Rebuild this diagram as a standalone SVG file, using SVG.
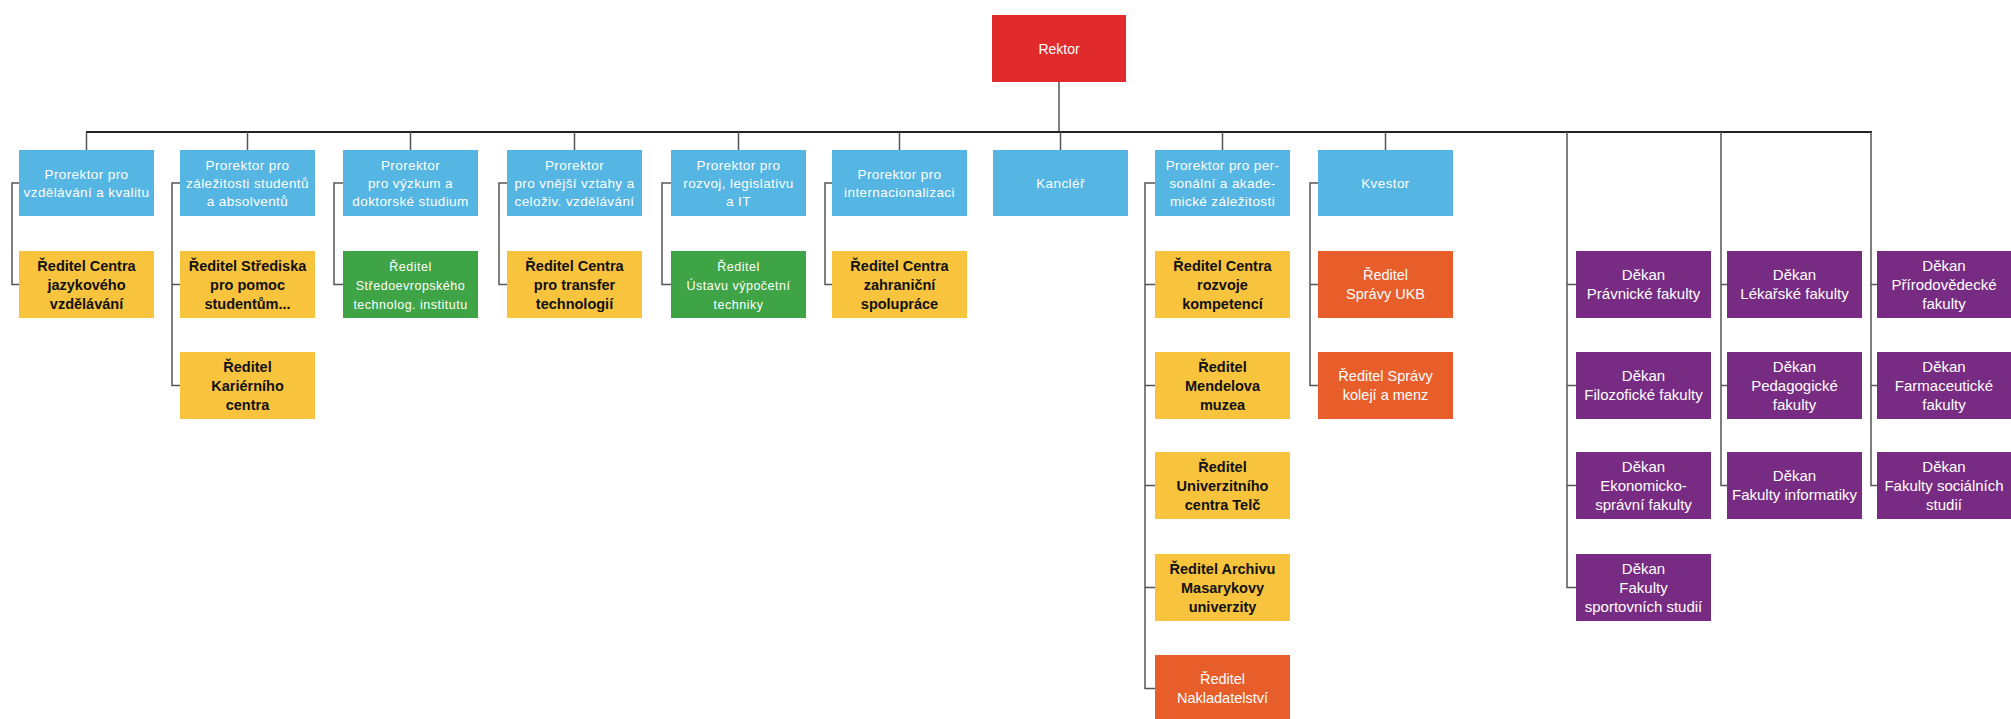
<svg xmlns="http://www.w3.org/2000/svg" width="2011" height="719" viewBox="0 0 2011 719">
<style>
rect{shape-rendering:crispEdges}
.red{fill:#e02a2c}
.blue{fill:#55b5e3}
.yel{fill:#f8c33d}
.grn{fill:#3fa445}
.org{fill:#e85e2b}
.pur{fill:#782b83}
text{font-family:"Liberation Sans",Arial,sans-serif;text-anchor:middle}
.tb{fill:#ffffff;font-size:13.5px;letter-spacing:0.4px}
.ty{fill:#111111;font-size:14.5px;font-weight:bold}
.tg{fill:#ffffff;font-size:12.5px;letter-spacing:0.5px}
.to{fill:#ffffff;font-size:14.5px}
.tp{fill:#ffffff;font-size:15px}
.tr{fill:#ffffff;font-size:14px}
.bus{stroke:#222;stroke-width:2;fill:none}
.ln{stroke:#555;stroke-width:1.5;fill:none}
</style>
<rect width="2011" height="719" fill="#ffffff"/>
<g id="connectors">
<line class="ln" x1="1059" y1="82" x2="1059" y2="132"/>
<line class="bus" x1="86" y1="132" x2="1872" y2="132"/>
<path class="ln" d="M86.5 132V150M247.5 132V150M410.5 132V150M574.5 132V150M738.5 132V150M899.5 132V150M1060.5 132V150M1222.5 132V150M1385.5 132V150"/>
<path class="ln" d="M19 183H12V284.5H19"/>
<path class="ln" d="M180 183H172V385.5H180M172 284.5H180"/>
<path class="ln" d="M343 183H334V284.5H343"/>
<path class="ln" d="M507 183H499V284.5H507"/>
<path class="ln" d="M671 183H662V284.5H671"/>
<path class="ln" d="M832 183H825V284.5H832"/>
<path class="ln" d="M1155 183H1145V688.5H1155M1145 284.5H1155M1145 385.5H1155M1145 485.5H1155M1145 587.5H1155"/>
<path class="ln" d="M1318 183H1310V385.5H1318M1310 284.5H1318"/>
<path class="ln" d="M1567 132V587.5H1576M1567 284.5H1576M1567 385.5H1576M1567 485.5H1576"/>
<path class="ln" d="M1721 132V485.5H1727M1721 284.5H1727M1721 385.5H1727"/>
<path class="ln" d="M1871 132V485.5H1877M1871 284.5H1877M1871 385.5H1877"/>
</g>
<g id="rektor"><rect class="red" x="992" y="15" width="134" height="67"/><text class="tr" x="1059" y="54">Rektor</text></g>
<g id="p1"><rect class="blue" x="19" y="150" width="135" height="66"/><text class="tb" x="86.5" y="179">Prorektor pro</text><text class="tb" x="86.5" y="197">vzdělávání a kvalitu</text></g>
<g id="p2"><rect class="blue" x="180" y="150" width="135" height="66"/><text class="tb" x="247.5" y="170">Prorektor pro</text><text class="tb" x="247.5" y="188">záležitosti studentů</text><text class="tb" x="247.5" y="206">a absolventů</text></g>
<g id="p3"><rect class="blue" x="343" y="150" width="135" height="66"/><text class="tb" x="410.5" y="170">Prorektor</text><text class="tb" x="410.5" y="188">pro výzkum a</text><text class="tb" x="410.5" y="206">doktorské studium</text></g>
<g id="p4"><rect class="blue" x="507" y="150" width="135" height="66"/><text class="tb" x="574.5" y="170">Prorektor</text><text class="tb" x="574.5" y="188">pro vnější vztahy a</text><text class="tb" x="574.5" y="206">celoživ. vzdělávání</text></g>
<g id="p5"><rect class="blue" x="671" y="150" width="135" height="66"/><text class="tb" x="738.5" y="170">Prorektor pro</text><text class="tb" x="738.5" y="188">rozvoj, legislativu</text><text class="tb" x="738.5" y="206">a IT</text></g>
<g id="p6"><rect class="blue" x="832" y="150" width="135" height="66"/><text class="tb" x="899.5" y="179">Prorektor pro</text><text class="tb" x="899.5" y="197">internacionalizaci</text></g>
<g id="kanclar"><rect class="blue" x="993" y="150" width="135" height="66"/><text class="tb" x="1060.5" y="188">Kancléř</text></g>
<g id="p8"><rect class="blue" x="1155" y="150" width="135" height="66"/><text class="tb" x="1222.5" y="170">Prorektor pro per-</text><text class="tb" x="1222.5" y="188">sonální a akade-</text><text class="tb" x="1222.5" y="206">mické záležitosti</text></g>
<g id="kvestor"><rect class="blue" x="1318" y="150" width="135" height="66"/><text class="tb" x="1385.5" y="188">Kvestor</text></g>

<g id="r1"><rect class="yel" x="19" y="251" width="135" height="67"/><text class="ty" x="86.5" y="270.5">Ředitel Centra</text><text class="ty" x="86.5" y="289.5">jazykového</text><text class="ty" x="86.5" y="308.5">vzdělávání</text></g>
<g id="r2a"><rect class="yel" x="180" y="251" width="135" height="67"/><text class="ty" x="247.5" y="270.5">Ředitel Střediska</text><text class="ty" x="247.5" y="289.5">pro pomoc</text><text class="ty" x="247.5" y="308.5">studentům...</text></g>
<g id="r2b"><rect class="yel" x="180" y="352" width="135" height="67"/><text class="ty" x="247.5" y="371.5">Ředitel</text><text class="ty" x="247.5" y="390.5">Kariérního</text><text class="ty" x="247.5" y="409.5">centra</text></g>
<g id="r3"><rect class="grn" x="343" y="251" width="135" height="67"/><text class="tg" x="410.5" y="270.5">Ředitel</text><text class="tg" x="410.5" y="289.5">Středoevropského</text><text class="tg" x="410.5" y="308.5">technolog. institutu</text></g>
<g id="r4"><rect class="yel" x="507" y="251" width="135" height="67"/><text class="ty" x="574.5" y="270.5">Ředitel Centra</text><text class="ty" x="574.5" y="289.5">pro transfer</text><text class="ty" x="574.5" y="308.5">technologií</text></g>
<g id="r5"><rect class="grn" x="671" y="251" width="135" height="67"/><text class="tg" x="738.5" y="270.5">Ředitel</text><text class="tg" x="738.5" y="289.5">Ústavu výpočetní</text><text class="tg" x="738.5" y="308.5">techniky</text></g>
<g id="r6"><rect class="yel" x="832" y="251" width="135" height="67"/><text class="ty" x="899.5" y="270.5">Ředitel Centra</text><text class="ty" x="899.5" y="289.5">zahraniční</text><text class="ty" x="899.5" y="308.5">spolupráce</text></g>
<g id="r8a"><rect class="yel" x="1155" y="251" width="135" height="67"/><text class="ty" x="1222.5" y="270.5">Ředitel Centra</text><text class="ty" x="1222.5" y="289.5">rozvoje</text><text class="ty" x="1222.5" y="308.5">kompetencí</text></g>
<g id="r8b"><rect class="yel" x="1155" y="352" width="135" height="67"/><text class="ty" x="1222.5" y="371.5">Ředitel</text><text class="ty" x="1222.5" y="390.5">Mendelova</text><text class="ty" x="1222.5" y="409.5">muzea</text></g>
<g id="r8c"><rect class="yel" x="1155" y="452" width="135" height="67"/><text class="ty" x="1222.5" y="471.5">Ředitel</text><text class="ty" x="1222.5" y="490.5">Univerzitního</text><text class="ty" x="1222.5" y="509.5">centra Telč</text></g>
<g id="r8d"><rect class="yel" x="1155" y="554" width="135" height="67"/><text class="ty" x="1222.5" y="573.5">Ředitel Archivu</text><text class="ty" x="1222.5" y="592.5">Masarykovy</text><text class="ty" x="1222.5" y="611.5">univerzity</text></g>
<g id="r8e"><rect class="org" x="1155" y="655" width="135" height="67"/><text class="to" x="1222.5" y="684">Ředitel</text><text class="to" x="1222.5" y="703">Nakladatelství</text></g>
<g id="r9a"><rect class="org" x="1318" y="251" width="135" height="67"/><text class="to" x="1385.5" y="280">Ředitel</text><text class="to" x="1385.5" y="299">Správy UKB</text></g>
<g id="r9b"><rect class="org" x="1318" y="352" width="135" height="67"/><text class="to" x="1385.5" y="381">Ředitel Správy</text><text class="to" x="1385.5" y="400">kolejí a menz</text></g>

<g id="d1"><rect class="pur" x="1576" y="251" width="135" height="67"/><text class="tp" x="1643.5" y="280">Děkan</text><text class="tp" x="1643.5" y="299">Právnické fakulty</text></g>
<g id="d2"><rect class="pur" x="1576" y="352" width="135" height="67"/><text class="tp" x="1643.5" y="381">Děkan</text><text class="tp" x="1643.5" y="400">Filozofické fakulty</text></g>
<g id="d3"><rect class="pur" x="1576" y="452" width="135" height="67"/><text class="tp" x="1643.5" y="471.5">Děkan</text><text class="tp" x="1643.5" y="490.5">Ekonomicko-</text><text class="tp" x="1643.5" y="509.5">správní fakulty</text></g>
<g id="d4"><rect class="pur" x="1576" y="554" width="135" height="67"/><text class="tp" x="1643.5" y="573.5">Děkan</text><text class="tp" x="1643.5" y="592.5">Fakulty</text><text class="tp" x="1643.5" y="611.5">sportovních studií</text></g>
<g id="d5"><rect class="pur" x="1727" y="251" width="135" height="67"/><text class="tp" x="1794.5" y="280">Děkan</text><text class="tp" x="1794.5" y="299">Lékařské fakulty</text></g>
<g id="d6"><rect class="pur" x="1727" y="352" width="135" height="67"/><text class="tp" x="1794.5" y="371.5">Děkan</text><text class="tp" x="1794.5" y="390.5">Pedagogické</text><text class="tp" x="1794.5" y="409.5">fakulty</text></g>
<g id="d7"><rect class="pur" x="1727" y="452" width="135" height="67"/><text class="tp" x="1794.5" y="481">Děkan</text><text class="tp" x="1794.5" y="500">Fakulty informatiky</text></g>
<g id="d8"><rect class="pur" x="1877" y="251" width="134" height="67"/><text class="tp" x="1944" y="270.5">Děkan</text><text class="tp" x="1944" y="289.5">Přírodovědecké</text><text class="tp" x="1944" y="308.5">fakulty</text></g>
<g id="d9"><rect class="pur" x="1877" y="352" width="134" height="67"/><text class="tp" x="1944" y="371.5">Děkan</text><text class="tp" x="1944" y="390.5">Farmaceutické</text><text class="tp" x="1944" y="409.5">fakulty</text></g>
<g id="d10"><rect class="pur" x="1877" y="452" width="134" height="67"/><text class="tp" x="1944" y="471.5">Děkan</text><text class="tp" x="1944" y="490.5">Fakulty sociálních</text><text class="tp" x="1944" y="509.5">studií</text></g>
</svg>
